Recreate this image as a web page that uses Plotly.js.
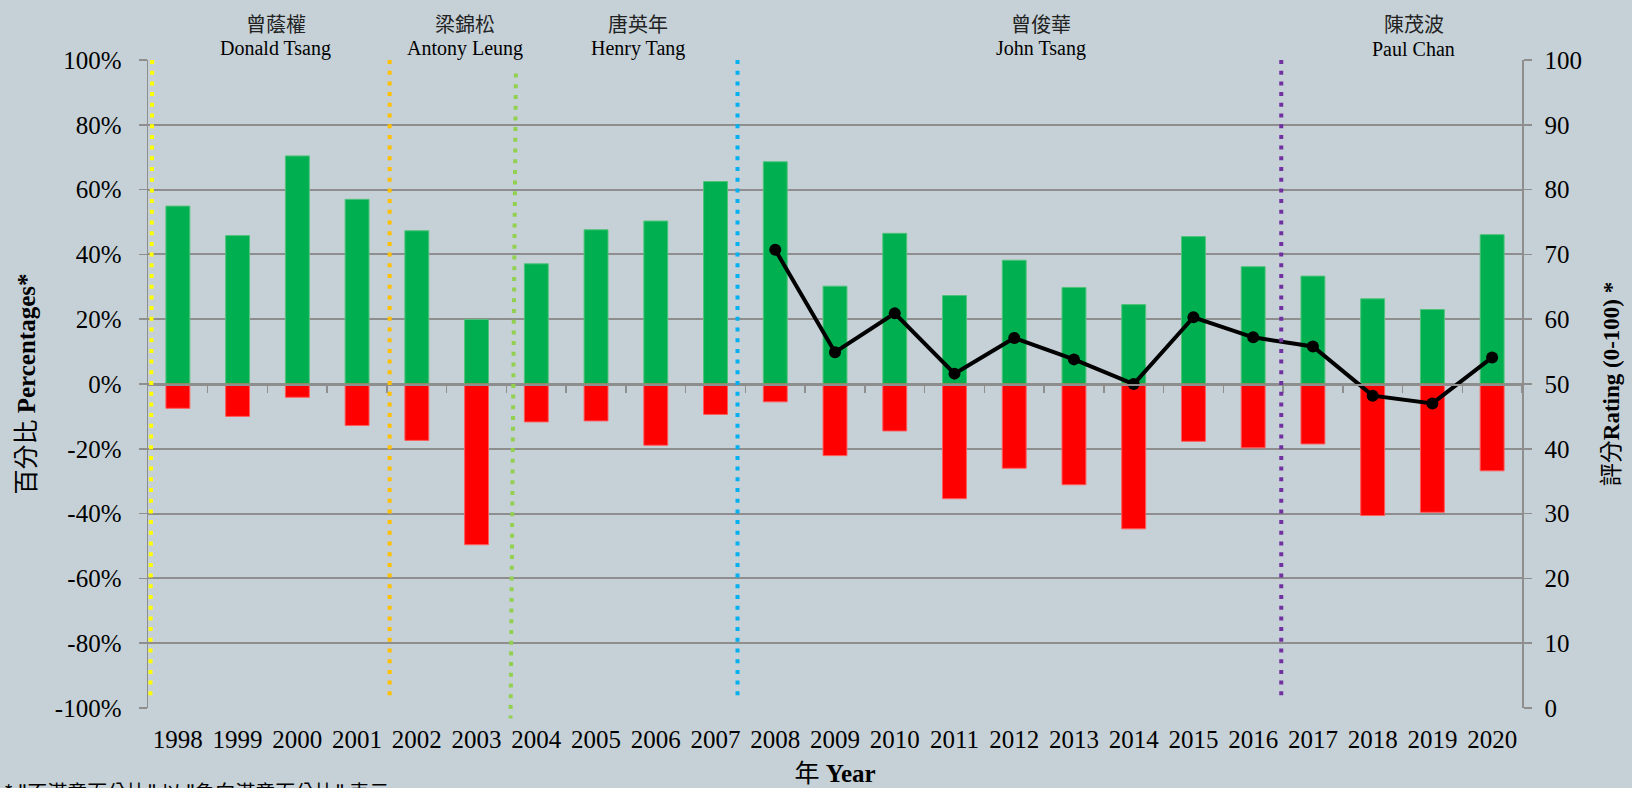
<!DOCTYPE html>
<html>
<head>
<meta charset="utf-8">
<script src="https://cdn.plot.ly/plotly-3.0.1.min.js"></script>
<style>html,body{margin:0;padding:0;background:#C6D1D7;}#chart{width:1632px;height:788px;}</style>
</head>
<body>
<div id="chart"></div>
<script>
// ---- data ----
const years = [1998,1999,2000,2001,2002,2003,2004,2005,2006,2007,2008,2009,2010,2011,2012,2013,2014,2015,2016,2017,2018,2019,2020];
const yearLabels = years.map(String);
const satisfiedPct = [54.9,45.8,70.4,57.0,47.3,19.9,37.1,47.6,50.3,62.5,68.6,30.2,46.5,27.3,38.2,29.8,24.5,45.5,36.2,33.3,26.3,23.0,46.1];
const dissatisfiedPct = [-7.5,-10.0,-4.1,-12.8,-17.4,-49.6,-11.7,-11.4,-18.9,-9.4,-5.5,-22.1,-14.5,-35.4,-26.0,-31.1,-44.7,-17.7,-19.7,-18.5,-40.6,-39.6,-26.8];
const ratingYears = [2008,2009,2010,2011,2012,2013,2014,2015,2016,2017,2018,2019,2020];
const rating = [70.7,54.9,60.9,51.6,57.1,53.8,50.0,60.3,57.2,55.8,48.2,47.0,54.1];
const pctTickVals = [-100,-80,-60,-40,-20,0,20,40,60,80,100];
const pctTickText = ['-100%','-80%','-60%','-40%','-20%','0%','20%','40%','60%','80%','100%'];
const ratingTickVals = [0,10,20,30,40,50,60,70,80,90,100];
// Financial Secretaries: names and term-change markers
const fsNameZh = ['曾蔭權','梁錦松','唐英年','曾俊華','陳茂波'];
const fsNameEn = ['Donald Tsang','Antony Leung','Henry Tang','John Tsang','Paul Chan'];
const fsLabelYear = [1999.64,2002.80,2005.71,2012.44,2018.69];
const termStartTop = [1997.57,2001.545,2003.658,2007.368,2016.47];
const termStartBottom = [1997.54,2001.545,2003.569,2007.368,2016.47];
const termLineTopPct = [100,100,95.8,100,100];
const termLineBottomPct = [-98,-98,-103.2,-98,-98];
const termColors = ['#FFFF00','#FFC000','#92D050','#00B0F0','#7030A0'];

const BG = '#C6D1D7';
const GRID = '#8E8E8E';
const SERIF = 'Liberation Serif, Times New Roman, Noto Sans CJK TC, serif';
const pctRange = [-100,100];
const toPaper = p => (p - pctRange[0])/(pctRange[1]-pctRange[0]);

const traces = [
  {type:'bar', x:years, y:satisfiedPct, width:0.4, marker:{color:'#00B050', line:{color:'#4FC37A', width:1}}, hoverinfo:'x+y', name:'satisfied'},
  {type:'bar', x:years, y:dissatisfiedPct, width:0.4, marker:{color:'#FF0000', line:{color:'#FF5A5A', width:1}}, hoverinfo:'x+y', name:'dissatisfied'},
  {type:'scatter', mode:'lines+markers', x:ratingYears, y:rating, yaxis:'y2', line:{color:'#000000', width:4}, marker:{color:'#000000', size:12}, name:'rating'},
  {type:'scatter', mode:'markers', x:years, y:satisfiedPct, xaxis:'x2', marker:{opacity:0}, hoverinfo:'skip', showlegend:false}
];

const shapes = termStartTop.map((x0,i)=>({
  type:'line', xref:'x', yref:'paper', x0:x0, x1:termStartBottom[i],
  y0:toPaper(termLineTopPct[i]), y1:toPaper(termLineBottomPct[i]),
  line:{color:termColors[i], width:4, dash:'4px,6.7px'}, layer:'above'
}));

const annotations = [];
fsNameZh.forEach((n,i)=>{
  annotations.push({xref:'x', yref:'paper', x:fsLabelYear[i], y:1.057, text:n, showarrow:false, yanchor:'middle', font:{family:'Noto Sans CJK TC', size:20, color:'#222'}});
  annotations.push({xref:'x', yref:'paper', x:fsLabelYear[i], y:1.017, text:fsNameEn[i], showarrow:false, yanchor:'middle', font:{family:SERIF, size:20, color:'#000'}});
});
annotations.push({xref:'paper', yref:'paper', x:-0.106, xanchor:'left', y:-0.104, yanchor:'top', text:'* "不滿意百分比" 以 "負向滿意百分比" 表示', showarrow:false, font:{family:'Noto Sans CJK TC', size:20, color:'#000'}});

const layout = {
  width:1632, height:788,
  paper_bgcolor:BG, plot_bgcolor:BG,
  margin:{l:148, r:110, t:60, b:80},
  barmode:'relative',
  showlegend:false,
  font:{family:SERIF, size:24, color:'#000'},
  xaxis:{range:[1997.5,2020.5], tickvals:years, ticktext:yearLabels, showgrid:false, zeroline:false, showline:false, ticks:'', tickfont:{family:SERIF, size:25}, ticklabelstandoff:14,
         title:{text:'年 <b>Year</b>', font:{family:SERIF, size:25}, standoff:12}},
  xaxis2:{overlaying:'x', anchor:'free', position:0.5, range:[1997.5,2020.5], tickvals:years.map(y=>y+0.5), showticklabels:false, ticks:'outside', ticklen:7, tickwidth:1.5, tickcolor:GRID, showline:true, linecolor:GRID, linewidth:1.5, showgrid:false, zeroline:false},
  yaxis:{range:pctRange, tickvals:pctTickVals, ticktext:pctTickText, showgrid:true, gridcolor:GRID, gridwidth:2, zeroline:false, showline:true, linecolor:GRID, linewidth:1.5, ticks:'outside', ticklen:8, tickcolor:GRID, tickwidth:1.5, ticklabelstandoff:12, tickfont:{family:SERIF, size:25},
         title:{text:'百分比 <b>Percentages*</b>', font:{family:SERIF, size:25}, standoff:12}},
  yaxis2:{overlaying:'y', side:'right', range:[0,100], tickvals:ratingTickVals, showgrid:false, zeroline:false, showline:true, linecolor:GRID, linewidth:1.5, ticks:'outside', ticklen:8, tickcolor:GRID, tickwidth:1.5, ticklabelstandoff:8, tickfont:{family:SERIF, size:25},
         title:{text:'評分<b>Rating (0-100) *</b>', font:{family:SERIF, size:23}, standoff:22}},
  shapes:shapes,
  annotations:annotations
};

Plotly.newPlot('chart', traces, layout, {displayModeBar:false, staticPlot:true});
</script>
</body>
</html>
